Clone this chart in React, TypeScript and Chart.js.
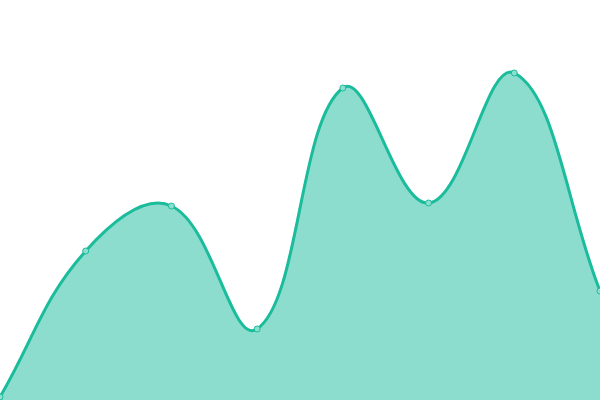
import React, { useEffect, useRef } from "react";
import { Chart } from "chart.js/auto";

const labels = ["1", "2", "3", "4", "5", "6", "7", "8"];
const values = [0.75, 37.25, 48.5, 17.75, 78, 49.25, 81.75, 27.25];

const lineColor = "#1abc9c";
const fillColor = "rgba(26, 188, 156, 0.5)";
const pointFill = "#8ddece";

const App: React.FC = () => {
  const chartRef = useRef<HTMLCanvasElement | null>(null);

  useEffect(() => {
    if (!chartRef.current) return;
    const chart = new Chart(chartRef.current, {
      type: "line",
      data: {
        labels,
        datasets: [
          {
            data: values,
            borderColor: lineColor,
            backgroundColor: fillColor,
            borderWidth: 3,
            fill: "start",
            tension: 0.4,
            pointRadius: 3,
            pointBorderWidth: 1,
            pointBackgroundColor: pointFill,
            pointBorderColor: lineColor,
          },
        ],
      },
      options: {
        animation: false,
        responsive: true,
        maintainAspectRatio: false,
        layout: { padding: 0, autoPadding: false },
        plugins: {
          legend: { display: false },
          tooltip: { enabled: false },
        },
        scales: {
          x: { display: false, offset: false },
          y: { display: false, min: 0, max: 100 },
        },
      },
    });
    return () => {
      chart.destroy();
    };
  }, []);

  return (
    <div style={{ position: "fixed", left: 0, top: 0, width: 600, height: 400 }}>
      <canvas ref={chartRef} />
    </div>
  );
};

export default App;
